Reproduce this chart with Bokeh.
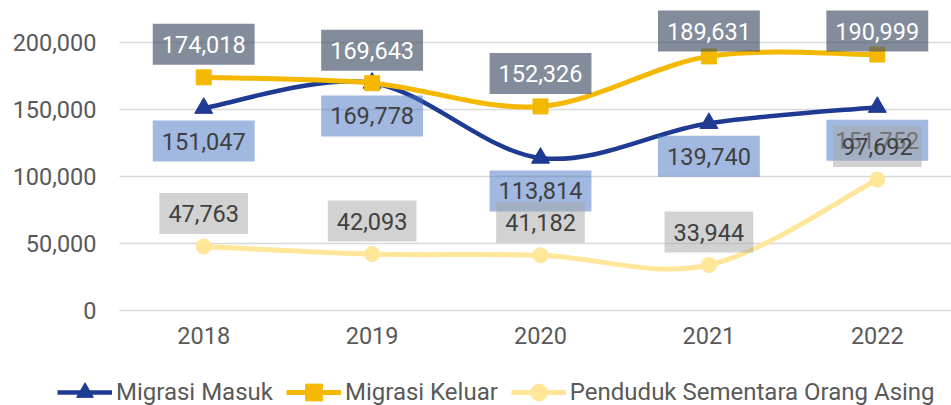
from bokeh.plotting import figure
from bokeh.models import (Range1d, FixedTicker, NumeralTickFormatter, Legend, LegendItem,
                          ColumnDataSource)
from bokeh.core.properties import value
from bokeh.embed import file_html
from bokeh.resources import INLINE

years = ["2018", "2019", "2020", "2021", "2022"]
migrasi_masuk = [151047, 169778, 113814, 139740, 151752]
migrasi_keluar = [174018, 169643, 152326, 189631, 190999]
penduduk_asing = [47763, 42093, 41182, 33944, 97692]
y_ticks = [0, 50000, 100000, 150000, 200000]

FONT = "Roboto"
FS = "23.5px"
TXT = "#595959"
xs = list(range(len(years)))

W, H = 951, 405
X0, X1 = -1.2067, 4.4406          # whole canvas is the frame
Y0, Y1 = -70896, 231343
AXIS_X = -0.5                      # left edge of the plot area
AXIS_Y = -1493                     # bottom edge of the plot area
px_per_unit = H / (Y1 - Y0)

p = figure(width=W, height=H, output_backend="svg", toolbar_location=None,
           x_range=Range1d(X0, X1), y_range=Range1d(Y0, Y1),
           min_border=0)
p.outline_line_color = None
p.background_fill_color = "white"

p.xgrid.visible = False
grid = p.ygrid[0]
if "cross_bounds" in grid.properties():
    grid.ticker = FixedTicker(ticks=y_ticks)
    grid.cross_bounds = (AXIS_X, X1)
    grid.grid_line_color = "#D9D9D9"
    grid.grid_line_width = 1.5
else:
    grid.visible = False
    p.segment(x0=[AXIS_X] * len(y_ticks), x1=[X1] * len(y_ticks), y0=y_ticks, y1=y_ticks,
              line_color="#D9D9D9", line_width=1.5, level="underlay")

p.yaxis.ticker = FixedTicker(ticks=y_ticks)
p.yaxis.formatter = NumeralTickFormatter(format="0,0")
p.yaxis.fixed_location = AXIS_X
p.xaxis.ticker = FixedTicker(ticks=xs)
p.xaxis.major_label_overrides = {i: y for i, y in enumerate(years)}
p.xaxis.fixed_location = AXIS_Y
for ax in (p.xaxis[0], p.yaxis[0]):
    ax.axis_line_color = None
    ax.major_tick_line_color = None
    ax.minor_tick_line_color = None
    ax.major_tick_out = 0
    ax.major_tick_in = 0
    ax.major_label_text_font = FONT
    ax.major_label_text_font_size = FS
    ax.major_label_text_color = TXT
p.yaxis.major_label_standoff = 23
p.xaxis.major_label_standoff = 14


def smooth(vals):
    # Catmull-Rom style bezier segments through the data points
    n = len(vals)
    P = [(xs[i], vals[i]) for i in range(n)]
    d = dict(x0=[], y0=[], x1=[], y1=[], cx0=[], cy0=[], cx1=[], cy1=[])
    for i in range(n - 1):
        p0 = P[i - 1] if i > 0 else P[i]
        p1, p2 = P[i], P[i + 1]
        p3 = P[i + 2] if i + 2 < n else P[i + 1]
        d["x0"].append(p1[0]); d["y0"].append(p1[1])
        d["x1"].append(p2[0]); d["y1"].append(p2[1])
        d["cx0"].append(p1[0] + (p2[0] - p0[0]) / 6); d["cy0"].append(p1[1] + (p2[1] - p0[1]) / 6)
        d["cx1"].append(p2[0] - (p3[0] - p1[0]) / 6); d["cy1"].append(p2[1] - (p3[1] - p1[1]) / 6)
    return ColumnDataSource(d)


series = [
    ("Migrasi Masuk", migrasi_masuk, "#1F3A93", 4.5, "triangle", 18),
    ("Migrasi Keluar", migrasi_keluar, "#F5B800", 5, "square", 15),
    ("Penduduk Sementara Orang Asing", penduduk_asing, "#FFE699", 5, "circle", 15),
]
items = []
for name, vals, col, lw, mk, sz in series:
    b = p.bezier(x0="x0", y0="y0", x1="x1", y1="y1", cx0="cx0", cy0="cy0",
                 cx1="cx1", cy1="cy1", source=smooth(vals), line_color=col, line_width=lw)
    s = p.scatter(xs, vals, marker=mk, size=sz, fill_color=col, line_color=col)
    items.append(LegendItem(label=name, renderers=[b, s]))

# data labels (kept inside the plot area, like the original)
label_specs = [
    (migrasi_masuk, "below", "#4472C4", 0.5, "#404040"),
    (migrasi_keluar, "above", "#44546A", 0.67, "white"),
    (penduduk_asing, "above", "#A6A6A6", 0.5, "#404040"),
]
for vals, where, bg, alpha, tc in label_specs:
    offs = []
    for v in vals:
        if where == "below":
            offs.append(33)
        else:
            dist_top = (Y1 - v) * px_per_unit  # px from top to point
            offs.append(-min(33, dist_top - 30.5))
    src = ColumnDataSource(dict(x=xs, y=vals, t=[f"{v:,}" for v in vals], off=offs))
    p.text(x="x", y="y", text="t", source=src, y_offset="off",
           text_align="center", text_baseline="middle",
           text_font=value(FONT), text_font_size=FS, text_color=tc,
           background_fill_color=bg, background_fill_alpha=alpha,
           padding=dict(left=9, right=9, top=12, bottom=12))

legend = Legend(items=items, orientation="horizontal", location=(57, -8),
                label_text_font=FONT, label_text_font_size="24px", label_text_color=TXT,
                glyph_width=55, glyph_height=42, label_height=42, label_standoff=4, spacing=13,
                padding=0, margin=0, border_line_color=None, background_fill_alpha=0)
p.add_layout(legend, "center")

open("out.html", "w").write(file_html(p, INLINE))
